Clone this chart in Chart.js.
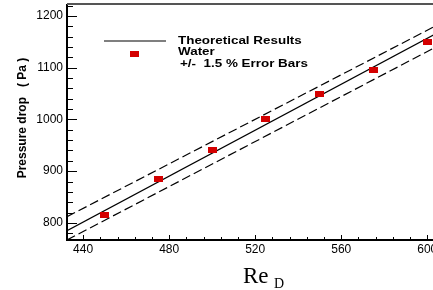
<!DOCTYPE html>
<html>
<head>
<meta charset="utf-8">
<script src="https://cdn.jsdelivr.net/npm/chart.js@4.4.1/dist/chart.umd.min.js"></script>
<style>
  html, body { margin: 0; padding: 0; background: #fff; overflow: hidden; }
  canvas { display: block; }
</style>
</head>
<body>
<canvas id="dropChart" width="438" height="290"></canvas>
<script>
// measured water data (Re_D, pressure drop in Pa)
const waterRe = [450, 475, 500, 525, 550, 575, 600];
const waterDrop = [815, 885, 940, 1000, 1050, 1095, 1150];

const theoryRe = [432.5, 605];
const theoryDrop = [785, 1168];
const upperRe = [432.5, 605];
const upperDrop = [812, 1183];
const lowerRe = [432.5, 605];
const lowerDrop = [767, 1142];

// tick labels
const xTicks = [440, 480, 520, 560, 600];
const yTicks = [800, 900, 1000, 1100, 1200];

const legendLabels = ['Theoretical Results', 'Water', '+/-  1.5 % Error Bars'];

function pairs(xs, ys) {
    return xs.map((x, i) => ({ x: x, y: ys[i] }));
}

// red rectangle marker, a bit wider than tall like in the picture
const mark = document.createElement('canvas');
mark.width = 9;
mark.height = 6;
const mctx = mark.getContext('2d');
mctx.fillStyle = '#d40000';
mctx.fillRect(0, 0, 9, 6);

// frame, inward ticks, legend and axis titles
const decor = {
    id: 'decor',
    afterDraw(chart) {
        const ctx = chart.ctx;
        const a = chart.chartArea;
        const x = chart.scales.x;
        const y = chart.scales.y;
        ctx.save();

        // minor + major ticks pointing into the plot
        ctx.strokeStyle = '#000';
        ctx.lineWidth = 1;
        ctx.beginPath();
        for (let v = 440; v <= x.max; v += 8) {
            const px = Math.round(x.getPixelForValue(v)) + 0.5;
            const len = (v % 40 === 0) ? 5 : 3;
            ctx.moveTo(px, a.bottom);
            ctx.lineTo(px, a.bottom - len);
        }
        for (let v = 780; v <= y.max; v += 20) {
            const py = Math.round(y.getPixelForValue(v)) + 0.5;
            const len = (v % 100 === 0) ? 10 : 6;
            ctx.moveTo(a.left, py);
            ctx.lineTo(a.left + len, py);
        }
        ctx.stroke();

        // axes
        ctx.lineWidth = 2;
        ctx.strokeStyle = '#000';
        ctx.beginPath();
        ctx.moveTo(a.left, a.top);
        ctx.lineTo(a.left, a.bottom);
        ctx.lineTo(a.right, a.bottom);
        ctx.stroke();
        ctx.strokeStyle = '#555';
        ctx.beginPath();
        ctx.moveTo(a.left, a.top);
        ctx.lineTo(a.right, a.top);
        ctx.stroke();

        // legend
        ctx.strokeStyle = '#000';
        ctx.lineWidth = 1.2;
        ctx.beginPath();
        ctx.moveTo(104, 41);
        ctx.lineTo(166, 41);
        ctx.stroke();
        ctx.drawImage(mark, 130, 51);

        ctx.fillStyle = '#000';
        ctx.textBaseline = 'middle';
        ctx.font = 'bold 11px "Liberation Sans", Arial, sans-serif';
        const rows = [[178, 41], [178, 52], [180, 64]];
        legendLabels.forEach((t, i) => {
            ctx.save();
            ctx.translate(rows[i][0], rows[i][1]);
            ctx.scale(1.22, 1);
            ctx.fillText(t, 0, 0);
            ctx.restore();
        });

        // y title
        ctx.save();
        ctx.translate(23, 118);
        ctx.rotate(-Math.PI / 2);
        ctx.textAlign = 'center';
        ctx.font = 'bold 12px "Liberation Sans", Arial, sans-serif';
        ctx.fillText('Pressure drop   ( Pa )', 0, 0);
        ctx.restore();

        // x title with subscript
        ctx.textBaseline = 'alphabetic';
        ctx.textAlign = 'left';
        ctx.font = '23px "Liberation Serif", "Times New Roman", serif';
        ctx.fillText('Re', 243, 283);
        ctx.font = '14px "Liberation Serif", "Times New Roman", serif';
        ctx.fillText('D', 274, 288);

        ctx.restore();
    }
};

new Chart(document.getElementById('dropChart'), {
    type: 'line',
    data: {
        datasets: [
            {
                label: 'Water',
                data: pairs(waterRe, waterDrop),
                showLine: false,
                pointStyle: mark,
                pointRadius: 5
            },
            {
                label: 'Theoretical Results',
                data: pairs(theoryRe, theoryDrop),
                borderColor: '#000',
                borderWidth: 1.2,
                pointRadius: 0
            },
            {
                label: 'upper',
                data: pairs(upperRe, upperDrop),
                borderColor: '#000',
                borderWidth: 1.2,
                borderDash: [9, 4],
                pointRadius: 0
            },
            {
                label: 'lower',
                data: pairs(lowerRe, lowerDrop),
                borderColor: '#000',
                borderWidth: 1.2,
                borderDash: [9, 4],
                pointRadius: 0
            }
        ]
    },
    options: {
        responsive: false,
        animation: false,
        layout: { autoPadding: false, padding: { top: 4, right: 0, left: 0, bottom: 0 } },
        plugins: {
            legend: { display: false },
            tooltip: { enabled: false }
        },
        scales: {
            x: {
                type: 'linear',
                min: 432.5,
                max: 605,
                grid: { display: false, drawTicks: false, tickLength: 0 },
                border: { display: false },
                afterBuildTicks: s => { s.ticks = xTicks.map(v => ({ value: v })); },
                afterFit: s => {
                    s.height = 50;
                    s.paddingLeft = 0;
                    s.paddingRight = 0;
                },
                ticks: {
                    autoSkip: false,
                    maxRotation: 0,
                    padding: 2,
                    color: '#000',
                    callback: v => String(v),
                    font: { family: '"Liberation Sans", Arial, sans-serif', size: 12 }
                }
            },
            y: {
                min: 767,
                max: 1223,
                grid: { display: false, drawTicks: false, tickLength: 0 },
                border: { display: false },
                afterBuildTicks: s => { s.ticks = yTicks.map(v => ({ value: v })); },
                afterFit: s => {
                    s.width = 67;
                    s.paddingTop = 0;
                    s.paddingBottom = 0;
                },
                ticks: {
                    padding: 4,
                    color: '#000',
                    callback: v => String(v),
                    font: { family: '"Liberation Sans", Arial, sans-serif', size: 12 }
                }
            }
        }
    },
    plugins: [decor]
});
</script>
</body>
</html>
